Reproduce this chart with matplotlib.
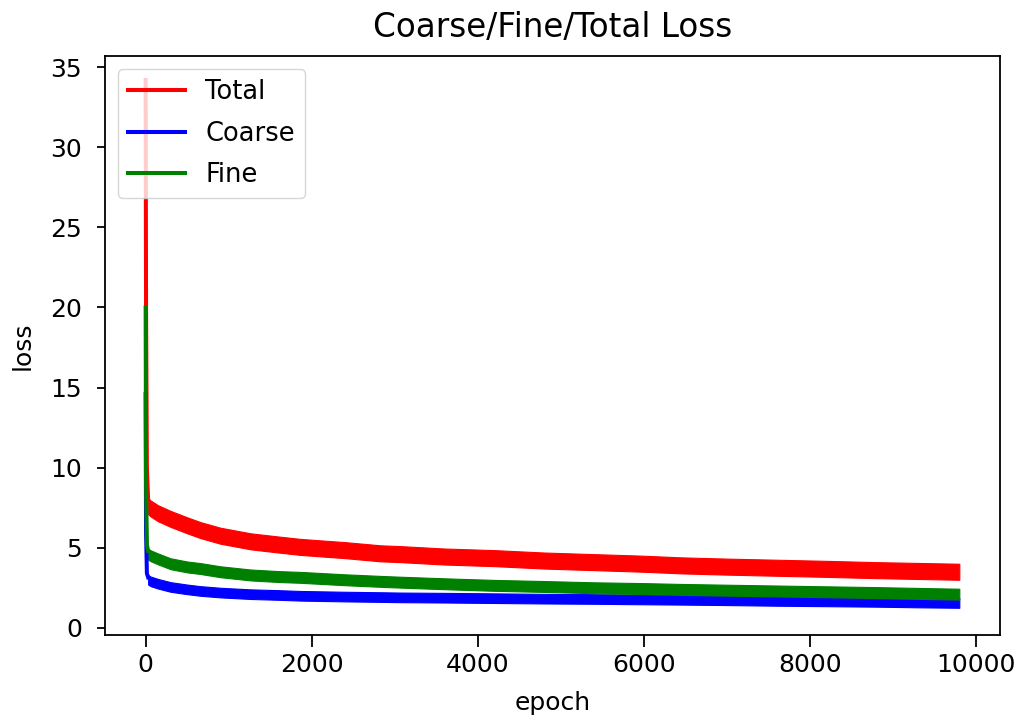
import matplotlib
matplotlib.use("Agg")
import matplotlib.pyplot as plt
import numpy as np

# ---- data ----
# initial spike (first epochs)
spike_epoch = [0, 5, 15, 30]
total_spike = [34.2, 20.0, 10.0, 8.0]
coarse_spike = [14.6, 6.0, 3.4, 3.15]
fine_spike = [20.0, 9.0, 5.2, 4.8]

# noisy band centre after the spike
band_epoch = [30, 60, 150, 300, 500, 660, 900, 1264, 1600, 1865, 2400, 2828,
              3069, 3600, 4200, 4800, 5400, 6000, 6438, 7000, 7600, 8200,
              8800, 9300, 9800]
total_band = [7.6, 7.45, 7.15, 6.8, 6.4, 6.1, 5.75, 5.4, 5.2, 5.05, 4.85, 4.65,
              4.6, 4.45, 4.35, 4.2, 4.1, 4.0, 3.9, 3.82, 3.75, 3.68, 3.6,
              3.55, 3.5]
coarse_band = [3.0, 2.9, 2.75, 2.55, 2.4, 2.3, 2.2, 2.1, 2.05, 2.0, 1.95,
               1.92, 1.9, 1.88, 1.85, 1.82, 1.8, 1.77, 1.75, 1.72, 1.68, 1.65,
               1.62, 1.58, 1.55]
fine_band = [4.6, 4.5, 4.3, 4.0, 3.8, 3.7, 3.5, 3.3, 3.2, 3.15, 3.0, 2.9,
             2.85, 2.75, 2.65, 2.58, 2.5, 2.45, 2.4, 2.35, 2.3, 2.25, 2.2,
             2.15, 2.1]

labels = ["Total", "Coarse", "Fine"]
colors = ["r", "b", "g"]

fig = plt.figure(figsize=(10.18, 7.24), dpi=100)
ax = fig.add_axes([0.1031, 0.1229, 0.8792, 0.7998])

series = [(total_spike, total_band, 0.5),
          (coarse_spike, coarse_band, 0.3),
          (fine_spike, fine_band, 0.34)]
for (sp, bd, hw), lab, c in zip(series, labels, colors):
    ax.plot(spike_epoch, sp, color=c, lw=2.9, label=lab)
    bd = np.asarray(bd)
    ax.fill_between(band_epoch, bd - hw, bd + hw, color=c, lw=0.8,
                    edgecolor=c)

ax.set_xlim(-490, 10290)
ax.set_ylim(-0.45, 35.7)
ax.set_xticks([0, 2000, 4000, 6000, 8000, 10000])
ax.set_yticks([0, 5, 10, 15, 20, 25, 30, 35])
ax.tick_params(labelsize=18, width=1.3)
ax.tick_params(axis="x", length=8.6, pad=4.3)
ax.tick_params(axis="y", length=5.8, pad=10.8)
for s in ax.spines.values():
    s.set_linewidth(1.3)

ax.set_title("Coarse/Fine/Total Loss", fontsize=23.5, pad=14)
ax.set_xlabel("epoch", fontsize=18, labelpad=10)
ax.set_ylabel("loss", fontsize=18, labelpad=11)
ax.legend(loc="upper left", fontsize=18.5, handlelength=2.2,
          labelspacing=0.6, borderaxespad=0.5)

fig.savefig("out.png", dpi=100)
